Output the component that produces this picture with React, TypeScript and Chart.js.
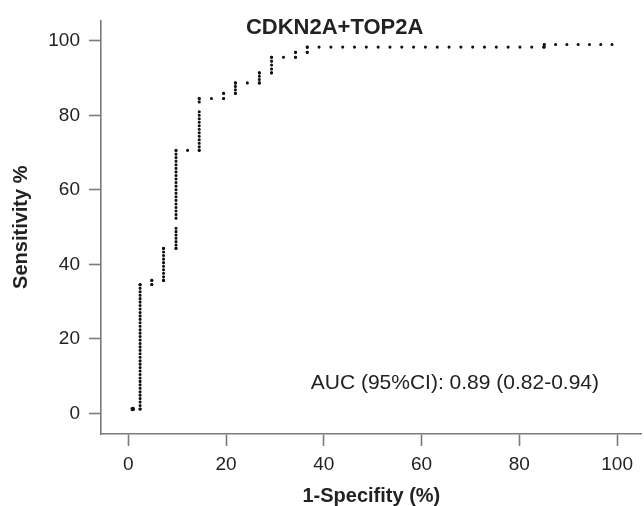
import React, { useEffect, useRef } from 'react';
import { Chart, registerables } from 'chart.js';

Chart.register(...registerables);

// ---- text ----
const CHART_TITLE = 'CDKN2A+TOP2A';
const X_TITLE = '1-Specifity (%)';
const Y_TITLE = 'Sensitivity %';
const AUC_LABEL = 'AUC (95%CI): 0.89 (0.82-0.94)';

// ---- axis ticks ----
const X_TICKS = [0, 20, 40, 60, 80, 100];
const Y_TICKS = [0, 20, 40, 60, 80, 100];

// ---- ROC curve corner points (1-specificity %, sensitivity %) ----
// null marks a visible break in the dotted column
const FPR = [0.9, 2.4, 2.4, 4.8, 4.8, 7.2, 7.2, 9.75, 9.75, 9.75, 9.75, 9.75, 14.5, 14.5, 14.5, 14.5, 14.5, 19.5, 19.5, 21.9, 21.9, 26.8, 26.8, 29.3, 29.3, 34.2, 34.2, 36.6, 36.6, 85.1, 85.1, 99.0];
const TPR = [1.2, 1.2, 34.6, 34.6, 35.7, 35.7, 44.3, 44.3, 49.7, null, 52.4, 70.6, 70.6, 81.0, null, 83.6, 84.5, 84.5, 85.9, 85.9, 88.7, 88.7, 91.4, 91.4, 95.6, 95.6, 96.9, 96.9, 98.3, 98.3, 99.0, 99.0];

// case counts -> dot spacing of the stepped curve
const N_POS = 107;
const N_NEG = 42;

const FONT = "'Liberation Sans', Arial, Helvetica, sans-serif";
const TEXT = '#222222';
const AXIS = '#7a7a7a';

const annotPlugin = {
  id: 'annot',
  afterDraw(chart: any) {
    const { ctx, scales, chartArea } = chart;
    const xs = scales.x;
    const ys = scales.y;
    ctx.save();
    ctx.fillStyle = TEXT;
    ctx.font = `bold 22px ${FONT}`;
    ctx.textAlign = 'center';
    ctx.textBaseline = 'alphabetic';
    ctx.fillText(CHART_TITLE, xs.getPixelForValue(42.2), chartArea.top + 14);
    ctx.font = `21px ${FONT}`;
    ctx.textAlign = 'right';
    ctx.textBaseline = 'middle';
    ctx.fillText(AUC_LABEL, xs.getPixelForValue(96.3), ys.getPixelForValue(8.1));
    ctx.restore();
  },
};

export default function App() {
  const ref = useRef<HTMLCanvasElement | null>(null);

  useEffect(() => {
    if (!ref.current) return;
    const data = FPR.map((x, i) => ({ x, y: TPR[i] }));
    const posStep = 100 / N_POS;
    const negStep = 100 / N_NEG;

    const chart = new Chart(ref.current, {
      type: 'line',
      data: {
        datasets: [
          {
            data,
            borderColor: '#111111',
            borderWidth: 3.1,
            borderCapStyle: 'round',
            borderJoinStyle: 'round',
            tension: 0,
            fill: false,
            spanGaps: false,
            pointRadius: (c: any) => (c.dataIndex === 0 ? 2.3 : 0),
            pointBackgroundColor: '#111111',
            pointBorderWidth: 0,
            pointHoverRadius: 0,
            segment: {
              borderDash: (c: any) => {
                const i0 = c.p0DataIndex;
                const i1 = c.p1DataIndex;
                const a = c.p0;
                const b = c.p1;
                const len = Math.hypot(b.x - a.x, b.y - a.y);
                const dxv = Math.abs((FPR[i1] as number) - (FPR[i0] as number));
                const dyv = Math.abs((TPR[i1] as number) - (TPR[i0] as number));
                const steps = dyv > dxv ? dyv / posStep : dxv / negStep;
                const n = Math.max(1, Math.round(steps));
                return [0, (len / n) * 0.997];
              },
            },
          },
        ],
      },
      options: {
        animation: false,
        responsive: false,
        events: [],
        layout: { padding: { top: 18, left: 0, right: 0, bottom: 0 } },
        plugins: {
          legend: { display: false },
          tooltip: { enabled: false },
          title: { display: false },
        },
        scales: {
          x: {
            type: 'linear',
            min: -5.6,
            max: 105.03,
            afterBuildTicks: (s: any) => {
              s.ticks = X_TICKS.map((v) => ({ value: v }));
            },
            afterFit: (s: any) => {
              s.height = 72;
            },
            border: { display: true, color: AXIS, width: 1.6 },
            grid: {
              display: true,
              drawOnChartArea: false,
              drawTicks: true,
              tickLength: 12,
              tickColor: AXIS,
              tickWidth: 1.6,
            },
            ticks: {
              color: TEXT,
              font: { family: FONT, size: 19 },
              padding: 7,
              maxRotation: 0,
            },
            title: {
              display: true,
              text: X_TITLE,
              color: TEXT,
              font: { family: FONT, size: 20, weight: 'bold', lineHeight: 1 },
              padding: { top: 0, bottom: 0 },
            },
          },
          y: {
            type: 'linear',
            min: -5.52,
            max: 105.47,
            afterBuildTicks: (s: any) => {
              s.ticks = Y_TICKS.map((v) => ({ value: v }));
            },
            afterFit: (s: any) => {
              s.width = 101;
            },
            border: { display: true, color: AXIS, width: 1.6 },
            grid: {
              display: true,
              drawOnChartArea: false,
              drawTicks: true,
              tickLength: 12,
              tickColor: AXIS,
              tickWidth: 1.6,
            },
            ticks: {
              color: TEXT,
              font: { family: FONT, size: 19 },
              padding: 9,
            },
            title: {
              display: true,
              text: Y_TITLE,
              color: TEXT,
              font: { family: FONT, size: 20, weight: 'bold', lineHeight: 1 },
              padding: { top: 11, bottom: 0 },
            },
          },
        },
      },
      plugins: [annotPlugin],
    } as any);

    return () => chart.destroy();
  }, []);

  return (
    <div style={{ position: 'fixed', left: 0, top: 0, width: 644, height: 506, background: '#fff' }}>
      <canvas ref={ref} width={644} height={506} style={{ display: 'block', width: 644, height: 506 }} />
    </div>
  );
}
